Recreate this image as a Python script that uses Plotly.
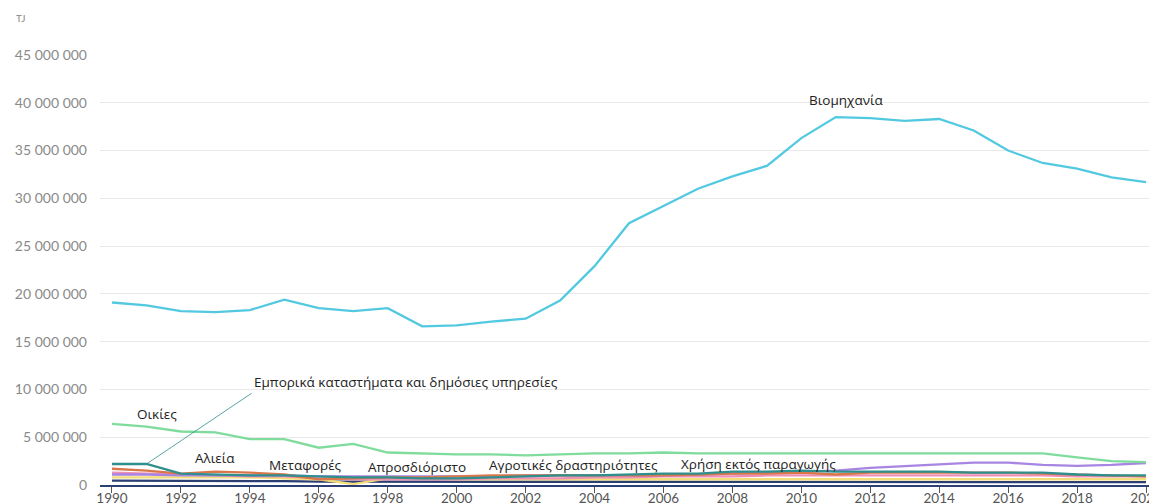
import plotly.graph_objects as go

years = list(range(1990, 2021))

industry = [19.1, 18.8, 18.2, 18.1, 18.3, 19.4, 18.5, 18.2, 18.5, 16.6, 16.7, 17.1, 17.4, 19.3, 22.9, 27.4,
            29.2, 31.0, 32.3, 33.4, 36.3, 38.5, 38.4, 38.1, 38.3, 37.1, 35.0, 33.7, 33.1, 32.2, 31.7]
households = [6.4, 6.1, 5.6, 5.5, 4.8, 4.8, 3.9, 4.3, 3.4, 3.3, 3.2, 3.2, 3.1, 3.2, 3.3, 3.3,
              3.4, 3.3, 3.3, 3.3, 3.3, 3.3, 3.3, 3.3, 3.3, 3.3, 3.3, 3.3, 2.9, 2.5, 2.4]
commercial = [2.2, 2.2, 1.2, 1.1, 1.0, 1.0, 0.9, 0.8, 0.8, 0.7, 0.7, 0.8, 0.9, 1.0, 1.0, 1.1,
              1.2, 1.2, 1.4, 1.4, 1.5, 1.4, 1.4, 1.4, 1.4, 1.3, 1.3, 1.3, 1.1, 1.0, 1.0]
fishing = [1.7, 1.5, 1.2, 1.4, 1.3, 1.1, 0.6, 0.7, 0.8, 0.8, 0.9, 1.0, 1.0, 1.0, 1.0, 1.0,
           1.0, 1.1, 1.2, 1.2, 1.3, 1.1, 1.3, 1.3, 1.3, 1.3, 1.3, 1.2, 1.1, 1.0, 0.9]
transport = [1.3, 1.2, 1.1, 1.0, 0.9, 0.9, 0.7, 0.6, 0.6, 0.6, 0.6, 0.7, 0.7, 0.7, 0.8, 0.8,
             0.9, 0.9, 0.9, 1.0, 1.0, 1.0, 1.0, 1.0, 1.0, 1.0, 1.0, 1.0, 0.9, 0.9, 0.9]
unspecified = [0.8, 0.8, 0.8, 0.8, 0.8, 0.7, 0.6, 0.1, 0.7, 0.7, 0.6, 0.6, 0.6, 0.6, 0.6, 0.6,
               0.6, 0.6, 0.6, 0.6, 0.6, 0.6, 0.6, 0.6, 0.6, 0.6, 0.6, 0.6, 0.6, 0.6, 0.6]
agriculture = [0.45, 0.45, 0.4, 0.4, 0.4, 0.4, 0.35, 0.35, 0.3, 0.3, 0.3, 0.3, 0.3, 0.3, 0.3, 0.3,
               0.3, 0.3, 0.3, 0.3, 0.3, 0.3, 0.3, 0.3, 0.3, 0.3, 0.3, 0.3, 0.3, 0.3, 0.3]
non_energy = [1.1, 1.1, 1.0, 1.0, 1.0, 1.0, 0.9, 0.9, 0.9, 0.9, 0.9, 0.9, 1.0, 1.0, 1.0, 1.0,
              1.0, 1.1, 1.2, 1.3, 1.4, 1.5, 1.8, 2.0, 2.2, 2.35, 2.35, 2.1, 2.0, 2.1, 2.3]

series = [
    ("Αγροτικές δραστηριότητες", agriculture, "#2b3f73"),
    ("Απροσδιόριστο", unspecified, "#f3dd78"),
    ("Μεταφορές", transport, "#ef8fb3"),
    ("Χρήση εκτός παραγωγής", non_energy, "#a884e3"),
    ("Αλιεία", fishing, "#d9774b"),
    ("Εμπορικά καταστήματα και δημόσιες υπηρεσίες", commercial, "#2e8f8c"),
    ("Οικίες", households, "#7fdc9c"),
    ("Βιομηχανία", industry, "#52c9e0"),
]

fig = go.Figure()
for name, vals, color in series:
    fig.add_trace(go.Scatter(x=years, y=[v * 1e6 for v in vals], mode="lines", name=name,
                             line=dict(color=color, width=2.3)))

labels = [
    ("Βιομηχανία", 2011.3, 40.3e6),
    ("Οικίες", 1991.3, 7.4e6),
    ("Αλιεία", 1993.0, 2.85e6),
    ("Μεταφορές", 1995.6, 2.05e6),
    ("Απροσδιόριστο", 1998.85, 1.85e6),
    ("Αγροτικές δραστηριότητες", 2003.4, 2.1e6),
    ("Χρήση εκτός παραγωγής", 2008.75, 2.2e6),
]
lab_font = dict(family="Open Sans", size=13.5, color="#222")
ann = [dict(x=x, y=y, text=t, showarrow=False, xref="x", yref="y", font=lab_font)
       for t, x, y in labels]
ann.append(dict(x=1991, y=2.2e6, ax=1994.05, ay=9.6e6, axref="x", ayref="y", xref="x", yref="y",
                text="Εμπορικά καταστήματα και δημόσιες υπηρεσίες", showarrow=True, arrowhead=0,
                arrowwidth=0.8, arrowcolor="#2e8f8c", xanchor="left", yanchor="bottom",
                font=lab_font))
# page has an 8px body margin; figure is sized so the plot area sits where the reference's does
ann.append(dict(x=-86 / 1050, y=1 + (55 - 18) / 430, xref="x domain", yref="y domain", text="TJ",
                showarrow=False, xanchor="left", yanchor="middle",
                font=dict(family="Lato", size=10, color="#888")))

fig.update_layout(
    width=1149, height=496,
    margin=dict(l=92, r=7, t=47, b=19),
    paper_bgcolor="white", plot_bgcolor="white",
    showlegend=False,
    annotations=ann,
    xaxis=dict(range=[1989.652, 2020.116], tickvals=list(range(1990, 2021, 2)),
               showgrid=False, showline=True, linecolor="#2b3f73", linewidth=2,
               ticks="outside", ticklen=6, tickcolor="#555", tickwidth=1, ticklabelstandoff=-6,
               ticklabeloverflow="allow",
               tickfont=dict(family="Lato", size=13.5, color="#555"), automargin=False, zeroline=False),
    yaxis=dict(range=[0, 45e6], tickvals=list(range(0, 45000001, 5000000)),
               ticktext=["0", "5 000 000", "10 000 000", "15 000 000", "20 000 000", "25 000 000",
                         "30 000 000", "35 000 000", "40 000 000", "45 000 000"],
               showgrid=True, gridcolor="#e8e8e8", gridwidth=1, zeroline=False,
               tickfont=dict(family="Lato", size=14, color="#8a8a8a"), ticklabelstandoff=12,
               automargin=False),
)

fig.write_html("out.html")
